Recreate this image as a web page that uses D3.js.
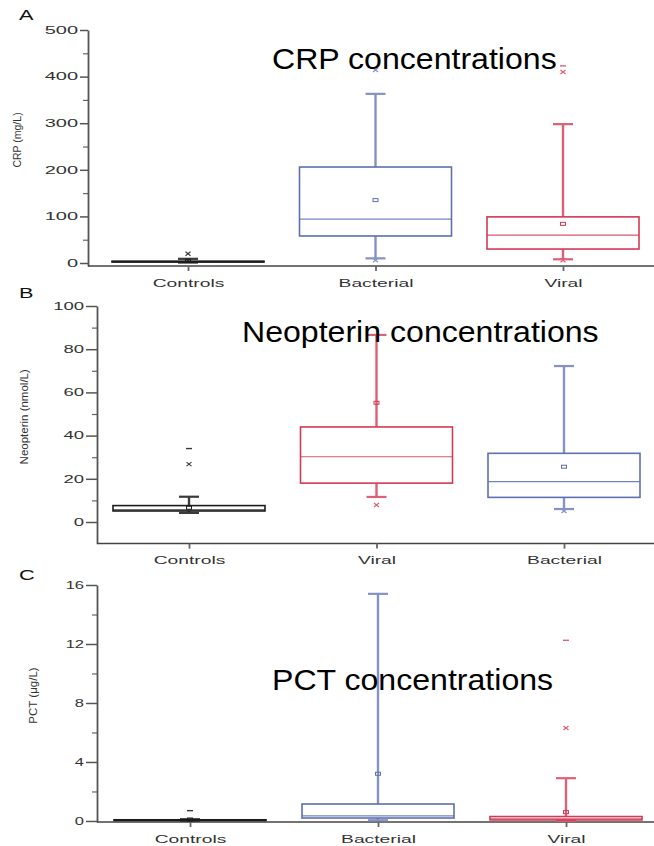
<!DOCTYPE html>
<html><head><meta charset="utf-8">
<script src="https://cdn.jsdelivr.net/npm/d3@7/dist/d3.min.js"></script>
<style>
body{margin:0;background:#fff}
svg{display:block}
text{font-family:"Liberation Sans",Arial,Helvetica,sans-serif}
</style>
</head><body>
<script>
// ---- Panel A: CRP (mg/L) ----
const crpGroups  = ["Controls", "Bacterial", "Viral"];
const crpQ1      = [2, 58, 30];
const crpMedian  = [3, 94, 60];
const crpQ3      = [4, 206, 99];
const crpLow     = [1, 10, 8];
const crpHigh    = [9, 363, 298];
const crpMean    = [5, 135, 84];
const crpCross   = [[20], [6, 414], [6, 410]];
const crpDash    = [[], [], [423]];
const crpTicks   = [0, 100, 200, 300, 400, 500];
const crpMinor   = [50, 150, 250, 350, 450];

// ---- Panel B: Neopterin (nmol/L) ----
const neoGroups  = ["Controls", "Viral", "Bacterial"];
const neoQ1      = [5.1, 18, 11.4];
const neoMedian  = [5.6, 30.2, 18.7];
const neoQ3      = [7.6, 44, 31.8];
const neoLow     = [4.2, 11.6, 6];
const neoHigh    = [11.7, 86.6, 72.2];
const neoMean    = [6.6, 55.2, 25.6];
const neoCross   = [[26.8], [7.9], [5.1]];
const neoDash    = [[34], [], []];
const neoTicks   = [0, 20, 40, 60, 80, 100];
const neoMinor   = [-10, 10, 30, 50, 70, 90];

// ---- Panel C: PCT (µg/L) ----
const pctGroups  = ["Controls", "Bacterial", "Viral"];
const pctQ1      = [0.03, 0.2, 0.07];
const pctMedian  = [0.05, 0.35, 0.15];
const pctQ3      = [0.08, 1.15, 0.3];
const pctLow     = [0.02, 0.05, 0.02];
const pctHigh    = [0.12, 15.4, 2.9];
const pctMean    = [0.1, 3.2, 0.6];
const pctCross   = [[], [], [6.3]];
const pctDash    = [[0.7], [], [12.25]];
const pctTicks   = [0, 4, 8, 12, 16];
const pctMinor   = [2, 6, 10, 14];

const boxColor     = {Controls: "#1c1c1c", Bacterial: "#5f6fb0", Viral: "#d23a55"};
const whiskerColor = {Controls: "#3a3a3a", Bacterial: "#8692c6", Viral: "#dc6078"};

const W = 654, H = 846;
const svg = d3.select("body").append("svg").attr("width", W).attr("height", H);
svg.append("rect").attr("width", W).attr("height", H).attr("fill", "#fff");

function buildRows(groups, q1, med, q3, lo, hi, mean, cross, dash) {
  return groups.map((g, i) => ({
    group: g, q1: q1[i], median: med[i], q3: q3[i], low: lo[i], high: hi[i],
    mean: mean[i], cross: cross[i], dash: dash[i]
  }));
}

const panels = [
  {
    letter: "A", letterY: 20, title: "CRP concentrations", titleX: 272, titleY: 69,
    yLabel: "CRP (mg/L)", yLabelX: 17, yLabelSize: 10.5,
    rows: buildRows(crpGroups, crpQ1, crpMedian, crpQ3, crpLow, crpHigh, crpMean, crpCross, crpDash),
    groups: crpGroups, ticks: crpTicks, minor: crpMinor,
    floor: -6.4, top: 500, bottomPx: 266, topPx: 30,
    axisX: 88, tickLen: 8, sx: 2.0, firstX: 188, lastX: 563
  },
  {
    letter: "B", letterY: 298, title: "Neopterin concentrations", titleX: 242, titleY: 342,
    yLabel: "Neopterin (nmol/L)", yLabelX: 24, yLabelSize: 11.5,
    rows: buildRows(neoGroups, neoQ1, neoMedian, neoQ3, neoLow, neoHigh, neoMean, neoCross, neoDash),
    groups: neoGroups, ticks: neoTicks, minor: neoMinor,
    floor: -10, top: 100, bottomPx: 543.6, topPx: 306,
    axisX: 97, tickLen: 11, sx: 1.85, firstX: 189, lastX: 564
  },
  {
    letter: "C", letterY: 580, title: "PCT concentrations", titleX: 272, titleY: 690,
    yLabel: "PCT (\u03bcg/L)", yLabelX: 33, yLabelSize: 11.5,
    rows: buildRows(pctGroups, pctQ1, pctMedian, pctQ3, pctLow, pctHigh, pctMean, pctCross, pctDash),
    groups: pctGroups, ticks: pctTicks, minor: pctMinor,
    floor: -0.07, top: 16, bottomPx: 822, topPx: 585,
    axisX: 97, tickLen: 11, sx: 1.65, firstX: 190, lastX: 566
  }
];

const BOX_W = 152, CAP_W = 20;

function drawPanel(p) {
  const g = svg.append("g");
  const y = d3.scaleLinear().domain([p.floor, p.top]).range([p.bottomPx, p.topPx]);
  const x = d3.scalePoint().domain(p.groups).range([p.firstX, p.lastX]);

  // minor y ticks
  g.append("g").attr("transform", `translate(${p.axisX},0)`)
    .call(d3.axisLeft(y).tickValues(p.minor.filter(v => v > p.floor)).tickSize(5).tickFormat("").tickSizeOuter(0))
    .call(s => s.select(".domain").remove())
    .call(s => s.selectAll("line").attr("stroke", "#666").attr("stroke-width", 1.2));

  // major y ticks + axis line
  const ya = g.append("g").attr("transform", `translate(${p.axisX},0)`)
    .call(d3.axisLeft(y).tickValues(p.ticks).tickSize(p.tickLen).tickSizeOuter(0));
  ya.select(".domain").attr("stroke", "#555").attr("stroke-width", 1.8);
  ya.selectAll(".tick line").attr("stroke", "#555").attr("stroke-width", 1.5);
  ya.selectAll(".tick text")
    .attr("x", -(p.tickLen + 2) / p.sx)
    .attr("transform", `scale(${p.sx},1)`)
    .attr("fill", "#333").style("font-size", "10px");

  // x axis
  g.append("line").attr("x1", p.axisX).attr("x2", W).attr("y1", p.bottomPx).attr("y2", p.bottomPx)
    .attr("stroke", "#444").attr("stroke-width", 1.5);
  const xa = g.append("g").attr("transform", `translate(0,${p.bottomPx})`)
    .call(d3.axisBottom(x).tickSize(5).tickSizeOuter(0));
  xa.select(".domain").remove();
  xa.selectAll(".tick line").attr("stroke", "#666").attr("stroke-width", 1.8);
  xa.selectAll(".tick text").attr("y", 17).attr("dy", "0.35em")
    .attr("transform", "scale(1.75,1)")
    .attr("fill", "#333").style("font-size", "11px");

  // boxes
  p.rows.forEach(d => {
    const cx = x(d.group), col = boxColor[d.group], wc = whiskerColor[d.group];
    const bg = g.append("g");
    // whiskers
    bg.append("line").attr("x1", cx).attr("x2", cx).attr("y1", y(d.q3)).attr("y2", y(d.high))
      .attr("stroke", wc).attr("stroke-width", 2.4);
    bg.append("line").attr("x1", cx).attr("x2", cx).attr("y1", y(d.q1)).attr("y2", y(d.low))
      .attr("stroke", wc).attr("stroke-width", 2.4);
    [d.high, d.low].forEach(v => bg.append("line")
      .attr("x1", cx - CAP_W / 2).attr("x2", cx + CAP_W / 2).attr("y1", y(v)).attr("y2", y(v))
      .attr("stroke", wc).attr("stroke-width", 2.2));
    // box
    bg.append("rect").attr("x", cx - BOX_W / 2).attr("y", y(d.q3))
      .attr("width", BOX_W).attr("height", Math.max(0.5, y(d.q1) - y(d.q3)))
      .attr("fill", "none").attr("stroke", col).attr("stroke-width", 1.6);
    // median
    bg.append("line").attr("x1", cx - BOX_W / 2).attr("x2", cx + BOX_W / 2)
      .attr("y1", y(d.median)).attr("y2", y(d.median))
      .attr("stroke", col).attr("stroke-width", 1.2).attr("stroke-opacity", 0.85);
    // mean marker
    bg.append("rect").attr("x", cx - 2.5).attr("y", y(d.mean) - 1.5).attr("width", 5).attr("height", 3)
      .attr("fill", "none").attr("stroke", col).attr("stroke-width", 1);
    // outliers (crosses)
    d.cross.forEach(v => {
      const yy = y(v);
      bg.append("path").attr("d", `M${cx - 2.5},${yy - 2}L${cx + 2.5},${yy + 2}M${cx - 2.5},${yy + 2}L${cx + 2.5},${yy - 2}`)
        .attr("stroke", wc).attr("stroke-width", 1.2).attr("fill", "none");
    });
    // extreme values (dashes)
    d.dash.forEach(v => {
      bg.append("line").attr("x1", cx - 3).attr("x2", cx + 3).attr("y1", y(v)).attr("y2", y(v))
        .attr("stroke", wc).attr("stroke-width", 1.4);
    });
  });

  // y axis title
  const ymid = (p.bottomPx + p.topPx) / 2 - 8;
  g.append("text")
    .attr("transform", `translate(${p.yLabelX},${ymid}) rotate(-90)`)
    .attr("text-anchor", "middle").attr("dy", "0.35em")
    .attr("fill", "#333").style("font-size", p.yLabelSize + "px")
    .text(p.yLabel);

  // panel letter
  g.append("text").attr("transform", `translate(19,${p.letterY}) scale(1.45,1)`)
    .attr("fill", "#111").style("font-size", "15px").text(p.letter);

  // headline
  g.append("text").attr("transform", `translate(${p.titleX},${p.titleY}) scale(1.07,1)`)
    .attr("fill", "#000").style("font-size", "30px").text(p.title);
}

panels.forEach(drawPanel);
</script>
</body></html>
